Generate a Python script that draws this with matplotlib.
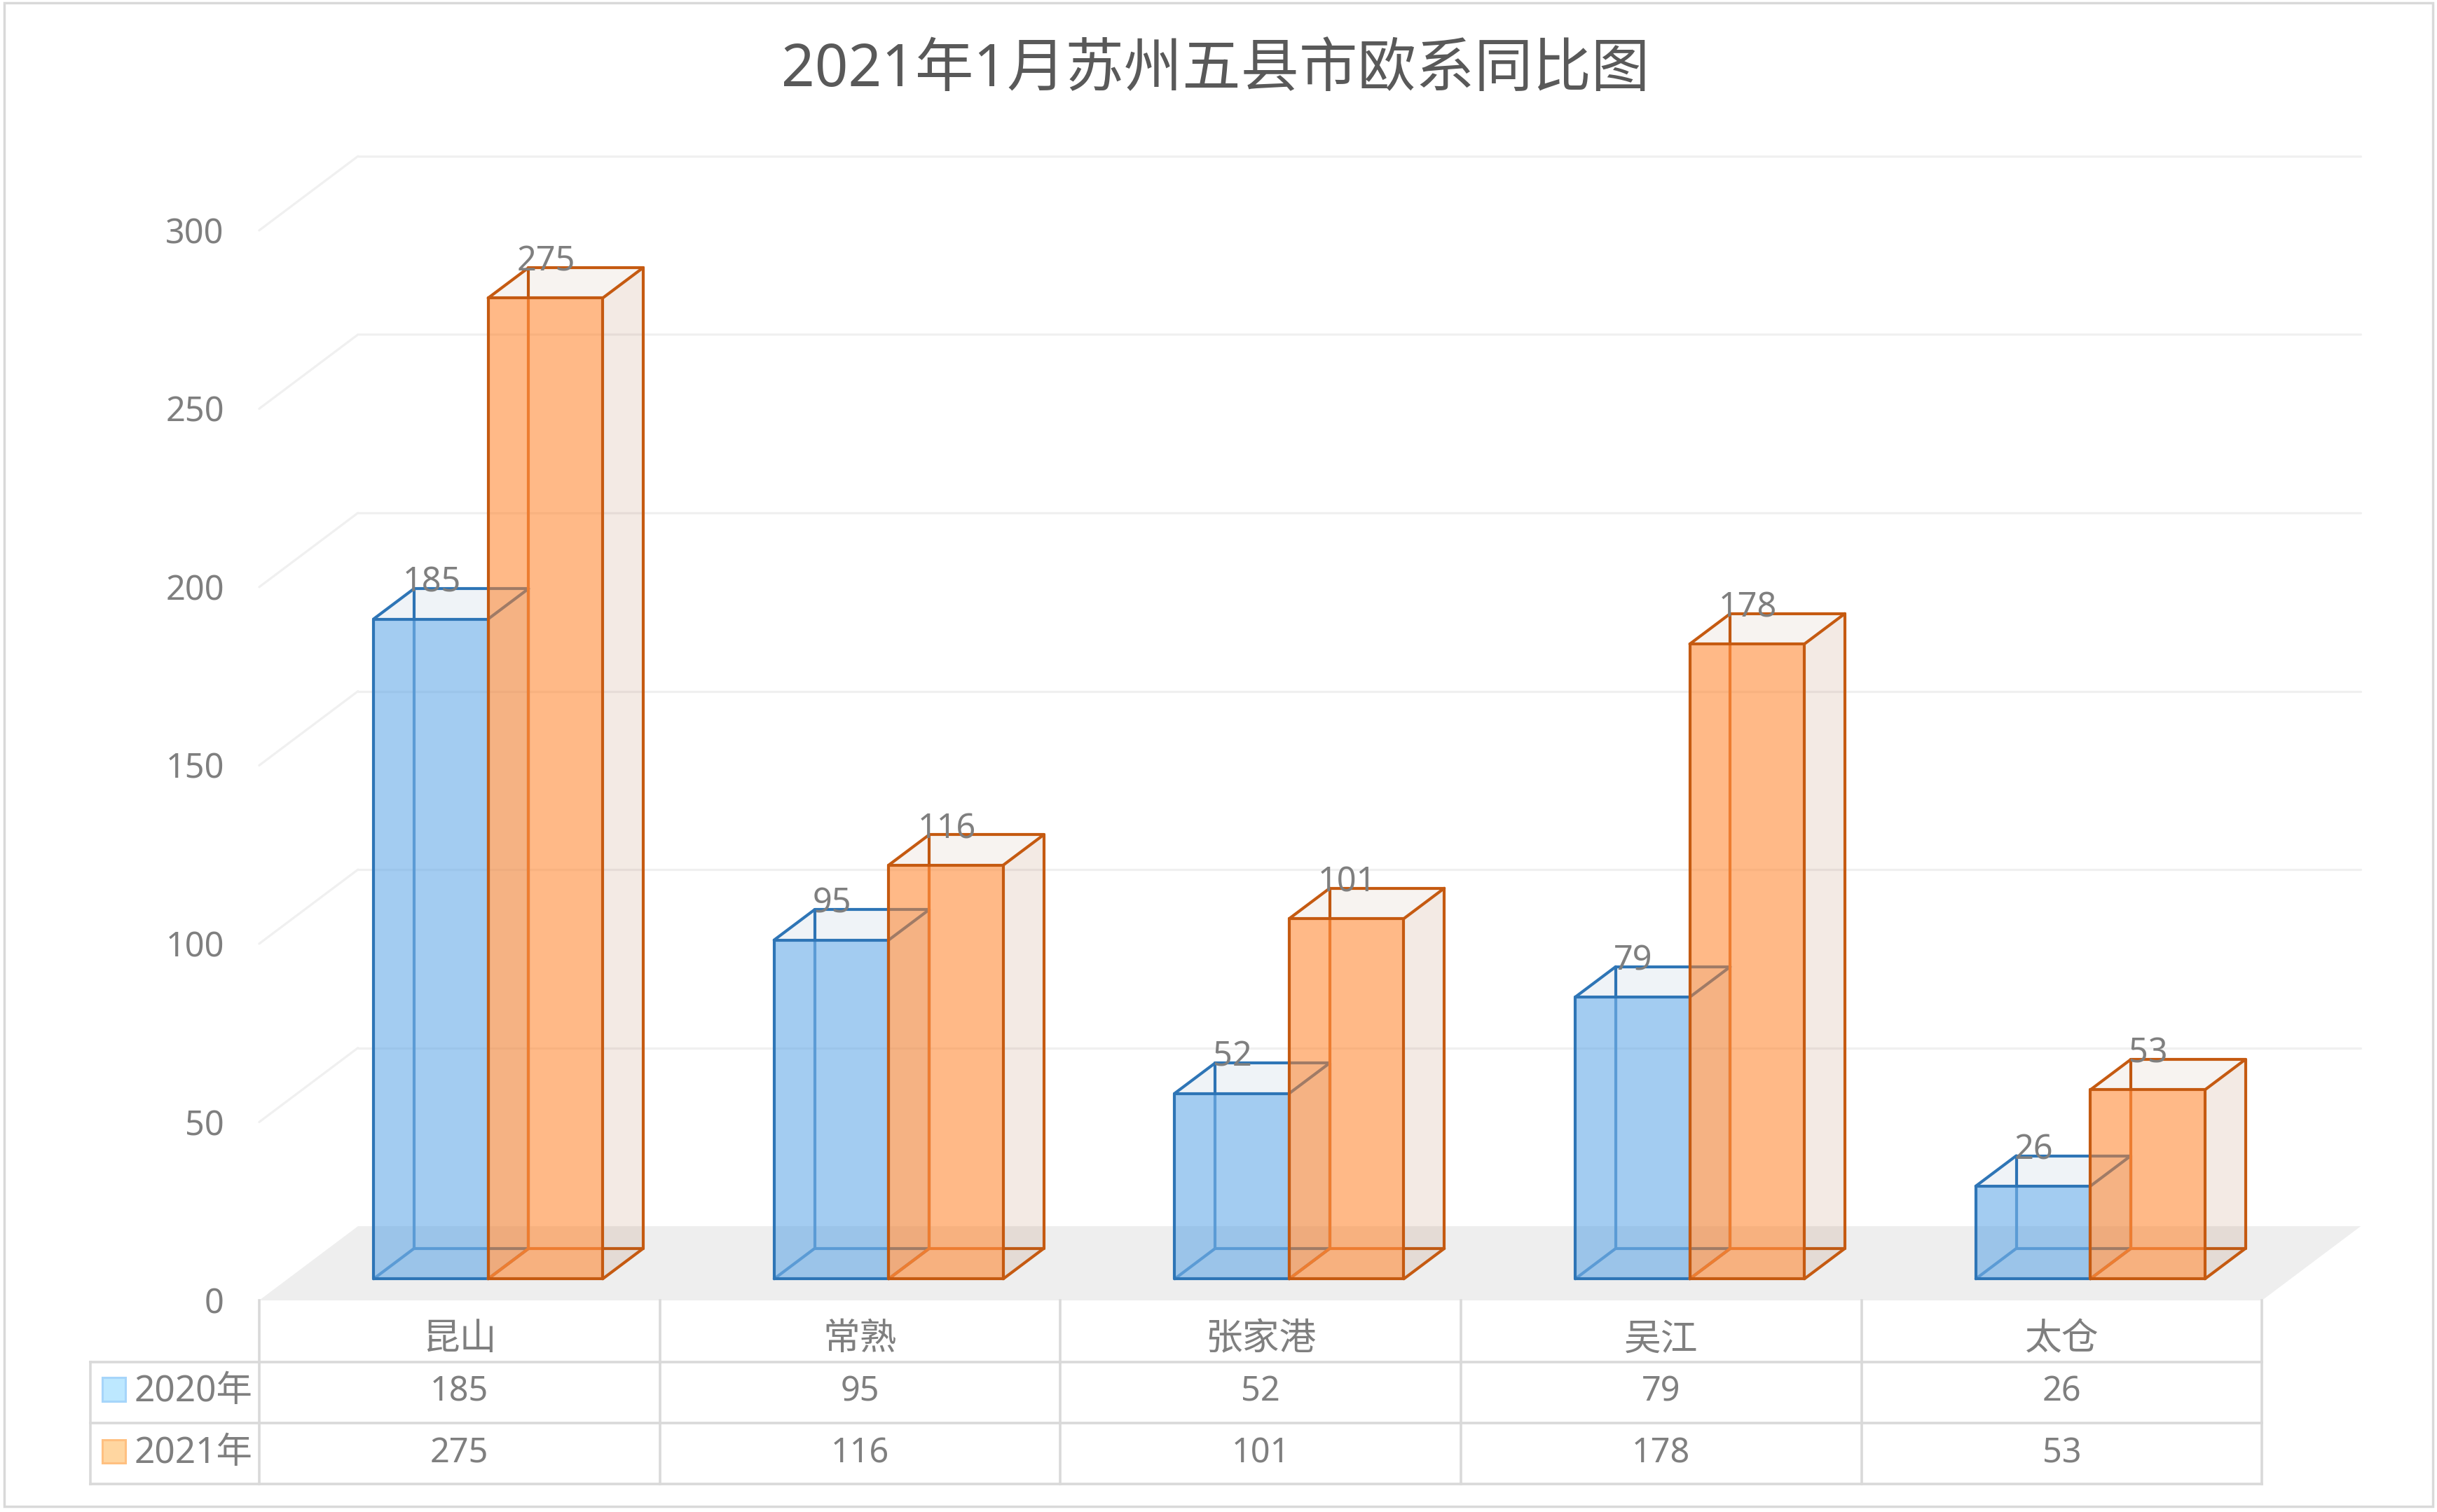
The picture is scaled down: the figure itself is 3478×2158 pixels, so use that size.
import matplotlib
matplotlib.use('Agg')
import matplotlib.pyplot as plt
from matplotlib.patches import Polygon, Rectangle

plt.rcParams['font.family'] = ['Noto Sans', 'Noto Sans CJK SC']

title = '2021年1月苏州五县市欧系同比图'
cities = ['昆山', '常熟', '张家港', '吴江', '太仓']
series_names = ['2020年', '2021年']
values_2020 = [185, 95, 52, 79, 26]
values_2021 = [275, 116, 101, 178, 53]
y_ticks = [0, 50, 100, 150, 200, 250, 300]

GREY = '#7F7F7F'
TABLE = '#D9D9D9'
GRID = '#F0F0F0'

# one value is 5.09 px, one category 571.6 px, depth goes up and to the right
DEPTH_X = 0.2467
DEPTH_Y = 20.8
BAR_W = 0.286
Z_FRONT = 0.29
Z_BACK = 0.70
ROW_LINES = [-17.3, -34.4, -51.5]


def proj(x, y, z):
    return (x + z * DEPTH_X, y + z * DEPTH_Y)


def face(ax, pts, color, alpha, z):
    ax.add_patch(Polygon(pts, closed=True, fc=color, ec='none', alpha=alpha, zorder=z))


def edges(ax, segs, color, z, lw=3.0):
    for a, b in segs:
        ax.plot([a[0], b[0]], [a[1], b[1]], color=color, lw=lw, zorder=z,
                solid_capstyle='round')


def bar3d(ax, x0, x1, h, colors, alphas, z):
    fill, dark, light, side, top = colors
    side_alpha, top_alpha, front_alpha = alphas
    fbl, fbr = proj(x0, 0, Z_FRONT), proj(x1, 0, Z_FRONT)
    ftl, ftr = proj(x0, h, Z_FRONT), proj(x1, h, Z_FRONT)
    bbl, bbr = proj(x0, 0, Z_BACK), proj(x1, 0, Z_BACK)
    btl, btr = proj(x0, h, Z_BACK), proj(x1, h, Z_BACK)
    # where the back edges leave the front face they change colour
    split_v = (bbl[0], ftl[1])
    split_h = (fbr[0], bbr[1])
    edges(ax, [(split_v, btl), (split_h, bbr)], dark, z)
    face(ax, [ftl, ftr, btr, btl], top, top_alpha, z + 0.1)
    face(ax, [fbr, bbr, btr, ftr], side, side_alpha, z + 0.1)
    face(ax, [fbl, fbr, ftr, ftl], fill, front_alpha, z + 0.2)
    edges(ax, [(bbl, split_v), (bbl, split_h), (fbl, bbl)], light, z + 0.25)
    edges(ax, [(fbl, fbr), (fbr, ftr), (ftr, ftl), (ftl, fbl),
               (ftl, btl), (btl, btr), (btr, ftr), (btr, bbr), (bbr, fbr)], dark, z + 0.3)


fig = plt.figure(figsize=(34.78, 21.58), dpi=100)
ax = fig.add_axes([0, 0, 1, 1])
ax.set_xlim(-1.147, 4.937)
ax.set_ylim(-59.33, 364.6)
ax.axis('off')

# outer frame
ax.add_patch(Rectangle((0.0016, 0.0037), 0.9968, 0.9945, transform=ax.transAxes,
                       fc='none', ec=TABLE, lw=2.5, zorder=1))

ax.text(1.888, 344.8, title, fontsize=60, color='#595959', ha='center', va='center',
        fontweight='medium')

left, right = -0.5, len(cities) - 0.5

# floor and walls
face(ax, [proj(left, 0, 0), proj(right, 0, 0), proj(right, 0, 1), proj(left, 0, 1)],
     '#EEEEEE', 1, 2)
for t in y_ticks:
    if t > 0:
        edges(ax, [(proj(left, t, 0), proj(left, t, 1)),
                   (proj(left, t, 1), proj(right, t, 1))], GRID, 2, lw=2.3)
    ax.annotate(str(t), (left, t), xytext=(-36, -4), textcoords='offset points',
                fontsize=35, color=GREY, ha='right', va='center', fontweight='medium')

blue = ('#499BE5', '#2E75B6', '#5B9BD5', '#2E75B6', '#29629B')
orange = ('#FF8025', '#C55A11', '#ED7D31', '#A35D2F', '#7A3700')
for i, (v0, v1) in enumerate(zip(values_2020, values_2021)):
    bar3d(ax, i - BAR_W, i, v0, blue, (0.10, 0.07, 0.5), 3 + i)
    bar3d(ax, i, i + BAR_W, v1, orange, (0.13, 0.06, 0.55), 3.5 + i)
    for x, v in [(i - BAR_W, v0), (i, v1)]:
        ax.annotate(str(v), proj(x, v, Z_BACK), xytext=(18, 6), textcoords='offset points',
                    fontsize=35, color=GREY, ha='center', va='center', zorder=20,
                    fontweight='medium')

# data table under the chart
table_left = -0.922
for yl in ROW_LINES:
    ax.plot([table_left, right], [yl, yl], color=TABLE, lw=2.6, zorder=2)
ax.plot([table_left, table_left], [ROW_LINES[0], ROW_LINES[2]], color=TABLE, lw=2.6, zorder=2)
for k in range(len(cities) + 1):
    ax.plot([left + k, left + k], [0, ROW_LINES[2]], color=TABLE, lw=2.6, zorder=2)

for i, c in enumerate(cities):
    ax.text(i, -11.2, c, fontsize=38, color=GREY, ha='center', va='center')
    ax.text(i, -25.6, str(values_2020[i]), fontsize=35, color=GREY, ha='center', va='center',
            fontweight='medium')
    ax.text(i, -42.9, str(values_2021[i]), fontsize=35, color=GREY, ha='center', va='center',
            fontweight='medium')

swatches = [('#BDE8FF', '#A6D5FA'), ('#FFD6A0', '#FFC080')]
for name, (fc, ec), yc in zip(series_names, swatches, [-25.0, -42.3]):
    ax.add_patch(Rectangle((-0.892, yc - 3.3), 0.058, 6.6, fc=fc, ec=ec, lw=2.2, zorder=3))
    ax.text(-0.812, yc - 0.6, name, fontsize=37, color=GREY, ha='left', va='center')

fig.savefig('out.png', dpi=100)
